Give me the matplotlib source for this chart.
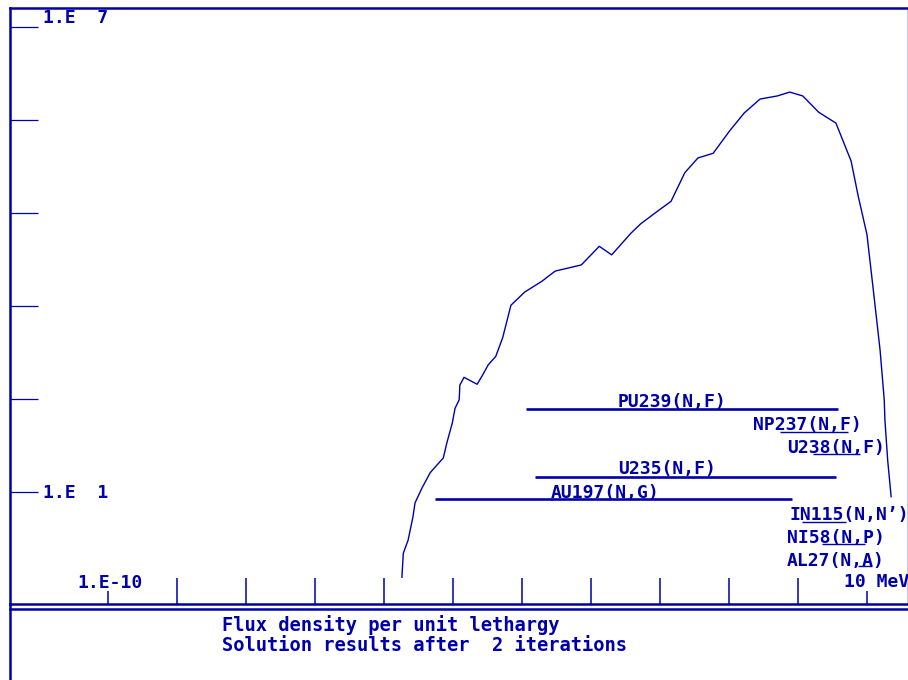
import matplotlib
matplotlib.use("Agg")
import numpy as np
import matplotlib.pyplot as plt
from matplotlib.lines import Line2D
from matplotlib.ticker import FixedLocator, NullFormatter, NullLocator

BLUE = "#0000aa"
MONO = "DejaVu Sans Mono"

# Spectrum: log10(E / MeV) and log10(flux per unit lethargy)
log_energy = [-5.74, -5.72, -5.65, -5.58, -5.55, -5.45, -5.33, -5.26, -5.14, -5.09,
              -5.01, -4.97, -4.91, -4.90, -4.84, -4.65, -4.57, -4.49, -4.38, -4.28,
              -4.16, -3.96, -3.71, -3.52, -3.14, -2.88, -2.70, -2.42, -2.28, -2.01,
              -1.84, -1.64, -1.45, -1.23, -0.99, -0.78, -0.55, -0.30, -0.12, 0.07,
              0.30, 0.55, 0.77, 0.87, 1.00, 1.09, 1.19, 1.25, 1.26, 1.30, 1.35]
log_flux = [-0.10, 0.21, 0.38, 0.68, 0.86, 1.05, 1.25, 1.32, 1.44, 1.63,
            1.89, 2.08, 2.19, 2.38, 2.48, 2.39, 2.51, 2.64, 2.75, 2.99,
            3.41, 3.58, 3.72, 3.85, 3.93, 4.17, 4.06, 4.34, 4.46, 4.64,
            4.75, 5.12, 5.31, 5.37, 5.66, 5.89, 6.07, 6.11, 6.16, 6.11,
            5.90, 5.76, 5.27, 4.83, 4.32, 3.62, 2.83, 2.19, 1.93, 1.41, 0.94]

# Reaction response ranges (log10 MeV) and their plotted level (log10)
reactions = ["PU239(N,F)", "U235(N,F)", "AU197(N,G)", "NP237(N,F)",
             "U238(N,F)", "IN115(N,N\u2019)", "NI58(N,P)", "AL27(N,A)"]
range_lo = [-3.94, -3.81, -5.26, -0.26, 0.22, 0.06, 0.35, 0.87]
range_hi = [0.58, 0.55, -0.09, 0.72, 0.90, 0.70, 0.97, 1.07]
range_level = [2.07, 1.19, 0.91, 1.77, 1.49, 0.61, 0.33, 0.05]
range_thick = [True, True, True, False, False, False, False, False]

# label anchor (left, baseline) in log units
label_x = [-2.61, -2.61, -3.58, -0.65, -0.16, -0.12, -0.16, -0.16]
label_y = [2.10, 1.23, 0.92, 1.80, 1.50, 0.64, 0.34, 0.05]

ytick_exp = [7.0, 5.8, 4.6, 3.4, 2.2, 1.0]
xtick_major_exp = [-9, -8, -7, -6, -5, -4, -3, -2, -1, 0]
xtick_minor_exp = [-10, 1]

W, H = 908, 680
fig = plt.figure(figsize=(W / 100, H / 100), dpi=100)
fig.patch.set_facecolor("white")
ax = fig.add_axes([10 / W, (H - 604) / H, 897 / W, 596 / H])
ax.set_facecolor("white")
ax.set_xscale("log")
ax.set_yscale("log")
ax.set_xlim(10 ** -11.42, 10 ** 1.58)
ax.set_ylim(10 ** -0.445, 10 ** 7.245)

ax.plot(10 ** np.array(log_energy), 10 ** np.array(log_flux), color=BLUE, lw=1.0)

for i, name in enumerate(reactions):
    lw = 1.9 if range_thick[i] else 1.0
    ax.plot([10 ** range_lo[i], 10 ** range_hi[i]],
            [10 ** range_level[i]] * 2, color=BLUE, lw=lw, solid_capstyle="butt")
    ax.text(10 ** label_x[i], 10 ** label_y[i], name, ha="left", va="baseline",
            fontsize=13, fontweight="bold", family=MONO, color=BLUE)

# axes / ticks
ax.xaxis.set_major_locator(FixedLocator([10.0 ** e for e in xtick_major_exp]))
ax.xaxis.set_minor_locator(FixedLocator([10.0 ** e for e in xtick_minor_exp]))
ax.xaxis.set_major_formatter(NullFormatter())
ax.xaxis.set_minor_formatter(NullFormatter())
ax.yaxis.set_major_locator(FixedLocator([10.0 ** e for e in ytick_exp]))
ax.yaxis.set_minor_locator(NullLocator())
ax.yaxis.set_major_formatter(NullFormatter())
ax.tick_params(axis="x", which="major", direction="in", length=18.7, width=1.1,
               color=BLUE, top=False, bottom=True)
ax.tick_params(axis="x", which="minor", direction="in", length=9.5, width=1.1,
               color=BLUE, top=False, bottom=True)
ax.tick_params(axis="y", which="major", direction="in", length=20, width=0.9,
               color=BLUE, left=True, right=False)

for side in ["left", "top", "bottom"]:
    ax.spines[side].set_color(BLUE)
    ax.spines[side].set_linewidth(1.8)
ax.spines["right"].set_color("#c8c8e6")
ax.spines["right"].set_linewidth(0.8)

# tick labels drawn as text
lab = dict(fontsize=13, fontweight="bold", family=MONO, color=BLUE,
           ha="left", va="baseline")
ax.text(10 ** -10.94, 10 ** 7.05, "1.E  7", **lab)
ax.text(10 ** -10.94, 10 ** 0.92, "1.E  1", **lab)
ax.text(10 ** -10.45, 10 ** -0.24, "1.E-10", **lab)
ax.text(10 ** 0.667, 10 ** -0.226, "10 MeV", clip_on=False, **lab)

# lower frame (second rule and left border continuing down)
fig.add_artist(Line2D([10 / W, 1.0], [1 - 609 / H] * 2, color=BLUE, lw=1.8,
                      transform=fig.transFigure))
fig.add_artist(Line2D([10 / W] * 2, [0.0, 1 - 604 / H], color=BLUE, lw=1.8,
                      transform=fig.transFigure))

fig.text(222 / W, 1 - 631 / H, "Flux density per unit lethargy", fontsize=13.5,
         fontweight="bold", family=MONO, color=BLUE, ha="left", va="baseline")
fig.text(222 / W, 1 - 651 / H, "Solution results after  2 iterations", fontsize=13.5,
         fontweight="bold", family=MONO, color=BLUE, ha="left", va="baseline")

fig.savefig("out.png", dpi=100, facecolor="white")
